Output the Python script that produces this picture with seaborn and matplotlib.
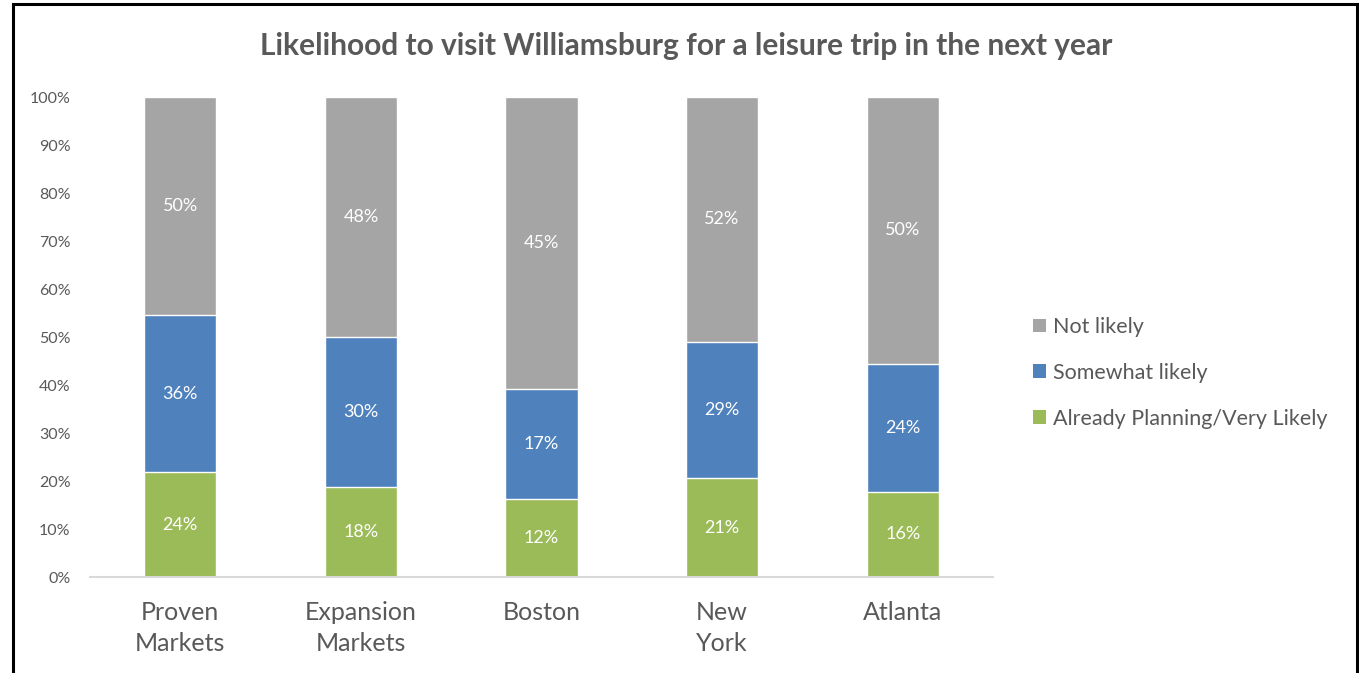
import pandas as pd
import numpy as np
import matplotlib.pyplot as plt
import seaborn as sns
from matplotlib.patches import Patch, Rectangle

markets = ['Proven\nMarkets', 'Expansion\nMarkets', 'Boston', 'New\nYork', 'Atlanta']
already = [24, 18, 12, 21, 16]
somewhat = [36, 30, 17, 29, 24]
not_likely = [50, 48, 45, 52, 50]

series = ['Not likely', 'Somewhat likely', 'Already Planning/Very Likely']
colors = {'Not likely': '#A5A5A5', 'Somewhat likely': '#4F81BD',
          'Already Planning/Very Likely': '#9BBB59'}

df = pd.DataFrame({'market': markets, 'already': already,
                   'somewhat': somewhat, 'not_likely': not_likely})
# labels don't sum to 100, the chart is a 100% stack
total = df[['already', 'somewhat', 'not_likely']].sum(axis=1)
df['p_already'] = df['already'] / total * 100
df['p_somewhat'] = df['somewhat'] / total * 100
df['p_not'] = df['not_likely'] / total * 100
df['top_green'] = df['p_already']
df['top_blue'] = df['p_already'] + df['p_somewhat']
df['top_grey'] = df['top_blue'] + df['p_not']

sns.set_theme(style='white')
plt.rcParams['font.family'] = ['Lato', 'DejaVu Sans']
txt = '#595959'

fig = plt.figure(figsize=(13.59, 6.73), dpi=100)
ax = fig.add_axes([0.0662, 0.1426, 0.6645, 0.7132])

# draw cumulative heights back to front
sns.barplot(data=df, x='market', y='top_grey', color=colors['Not likely'], width=0.4, saturation=1, ax=ax)
sns.barplot(data=df, x='market', y='top_blue', color=colors['Somewhat likely'], width=0.4, saturation=1, ax=ax)
sns.barplot(data=df, x='market', y='top_green', color=colors['Already Planning/Very Likely'], width=0.4, saturation=1, ax=ax)

for i, r in df.iterrows():
    ax.text(i, r['p_already'] / 2, f"{r['already']}%", ha='center', va='center', color='white', fontsize=13)
    ax.text(i, r['top_green'] + r['p_somewhat'] / 2, f"{r['somewhat']}%", ha='center', va='center', color='white', fontsize=13)
    ax.text(i, r['top_blue'] + r['p_not'] / 2, f"{r['not_likely']}%", ha='center', va='center', color='white', fontsize=13)

ax.set_xlim(-0.5, 4.5)
ax.set_ylim(0, 100)
ax.set_yticks(np.arange(0, 101, 10))
ax.set_yticklabels([f'{v}%' for v in range(0, 101, 10)])
ax.set_xlabel('')
ax.set_ylabel('')
ax.tick_params(axis='y', length=0, pad=14, labelsize=11.5, labelcolor=txt)
ax.tick_params(axis='x', length=0, pad=17, labelsize=18, labelcolor=txt)
for lab in ax.get_xticklabels():
    lab.set_linespacing(1.45)
for s in ['top', 'right', 'left']:
    ax.spines[s].set_visible(False)
ax.spines['bottom'].set_color('#D9D9D9')
ax.spines['bottom'].set_linewidth(1.5)

handles = [Patch(facecolor=colors[s], edgecolor='none') for s in series]
fig.legend(handles, series, loc='center left', bbox_to_anchor=(0.754, 0.446), frameon=False,
           fontsize=15.5, labelcolor=txt, handlelength=0.6, handleheight=0.6,
           handletextpad=0.3, labelspacing=1.2, borderaxespad=0)

fig.text(0.505, 0.932, 'Likelihood to visit Williamsburg for a leisure trip in the next year',
         ha='center', va='center', fontsize=21.5, fontweight='bold', color=txt)

fig.patches.append(Rectangle((13 / 1359, -0.1), 1344 / 1359, 1.1 - 4 / 673, transform=fig.transFigure,
                             fill=False, edgecolor='black', linewidth=2.2))

fig.savefig('out.png', dpi=100)
